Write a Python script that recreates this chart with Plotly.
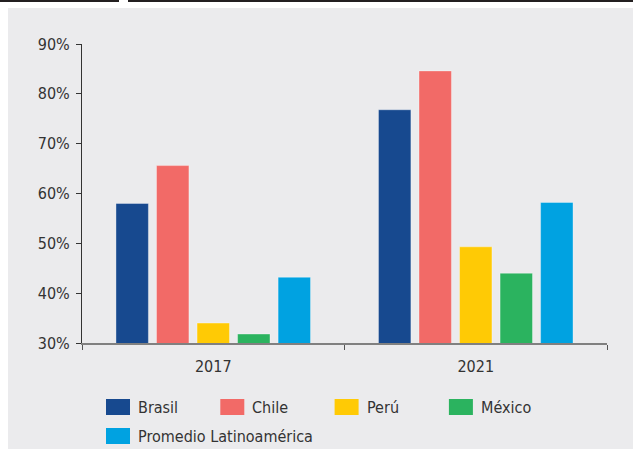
import plotly.graph_objects as go

# Categories, series and tick labels
years = ["2017", "2021"]
series_names = ["Brasil", "Chile", "Perú", "México", "Promedio Latinoamérica"]
brasil = [58.0, 76.8]
chile = [65.6, 84.6]
peru = [34.0, 49.3]
mexico = [31.8, 44.0]
promedio = [43.2, 58.2]
series_values = [brasil, chile, peru, mexico, promedio]
colors = ["#17498F", "#F26A67", "#FFCA05", "#2BB35F", "#00A2E1"]
y_ticks = [30, 40, 50, 60, 70, 80, 90]
y_tick_labels = ["30%", "40%", "50%", "60%", "70%", "80%", "90%"]

W, H = 633, 449
ML, MR, MT, MB = 82, 26, 44, 106
PW, PH = W - ML - MR, H - MT - MB

FONT = "DejaVu Sans Condensed, Liberation Sans Narrow, Arial Narrow, sans-serif"
FS = 16
TEXT = "#333333"
BG = "#EBEBED"


def px(x):
    return (x - ML) / PW


def py(y):
    return (H - MB - y) / PH


fig = go.Figure()
for name, vals, col in zip(series_names, series_values, colors):
    fig.add_trace(go.Bar(
        x=years, y=vals, name=name,
        marker=dict(color=col, line=dict(color="rgba(255,255,255,0.35)", width=1)),
        showlegend=False,
    ))

shapes = [
    # grey panel behind the chart
    dict(type="rect", xref="paper", yref="paper", layer="below",
         x0=px(8), x1=px(W + 2), y0=py(H + 2), y1=py(8),
         fillcolor=BG, line=dict(width=0)),
    # header rules
    dict(type="line", xref="paper", yref="paper", x0=px(0), x1=px(119), y0=py(1), y1=py(1),
         line=dict(color="#231F20", width=2)),
    dict(type="line", xref="paper", yref="paper", x0=px(128), x1=px(W), y0=py(1), y1=py(1),
         line=dict(color="#231F20", width=2)),
]

annotations = []
# legend: four entries on the first row, the average on the second
for i, (name, col) in enumerate(zip(series_names, colors)):
    row, colidx = divmod(i, 4)
    x0 = 106 + colidx * 114.3
    yc = 407 + row * 29
    shapes.append(dict(type="rect", xref="paper", yref="paper",
                       x0=px(x0), x1=px(x0 + 24), y0=py(yc + 8), y1=py(yc - 8),
                       fillcolor=col, line=dict(width=0)))
    annotations.append(dict(xref="paper", yref="paper", x=px(x0 + 30), y=py(yc),
                            text=name, showarrow=False, xanchor="left", yanchor="middle",
                            font=dict(family=FONT, size=FS, color=TEXT)))

fig.update_layout(
    width=W, height=H,
    margin=dict(l=ML, r=MR, t=MT, b=MB, pad=0),
    paper_bgcolor="white", plot_bgcolor=BG,
    barmode="group", bargap=0.228, bargroupgap=0.2,
    shapes=shapes, annotations=annotations,
    font=dict(family=FONT, size=FS, color=TEXT),
    xaxis=dict(
        type="category", tickson="boundaries", showline=True, linecolor="#808080", linewidth=2,
        ticks="outside", ticklen=5, tickcolor="#555555", tickwidth=1,
        ticklabelstandoff=8,
        showgrid=False, tickfont=dict(family=FONT, size=FS, color=TEXT),
    ),
    yaxis=dict(
        range=[30, 90], tickvals=y_ticks, ticktext=y_tick_labels,
        showline=True, linecolor="#333333", linewidth=1,
        ticks="outside", ticklen=5, tickcolor="#333333", tickwidth=1,
        ticklabelstandoff=3,
        showgrid=False, zeroline=False, tickfont=dict(family=FONT, size=FS, color=TEXT),
    ),
)

fig.write_html("out.html")
